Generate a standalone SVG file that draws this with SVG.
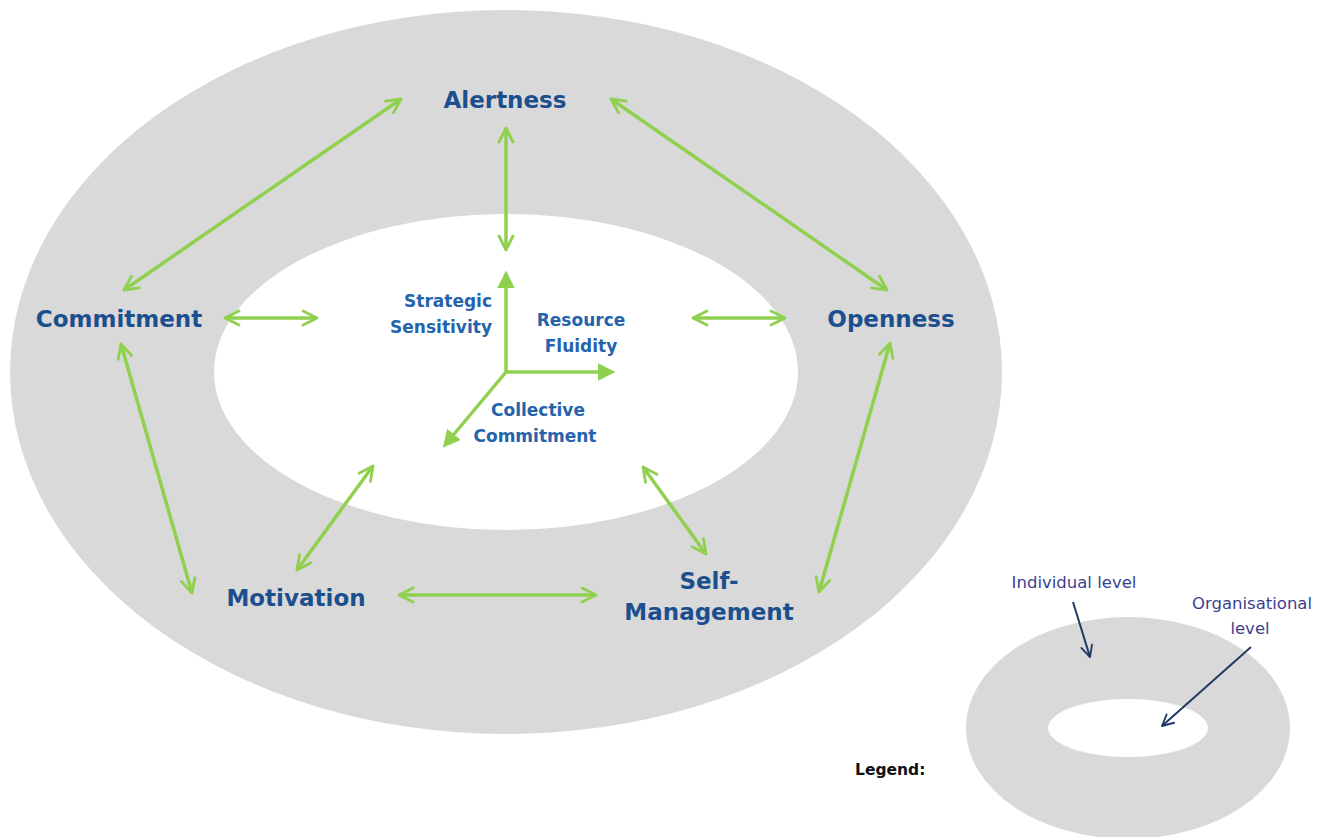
<svg xmlns="http://www.w3.org/2000/svg" width="1329" height="837" viewBox="0 0 1329 837">
<style>
.ring{fill:#d9d9d9}
.hole{fill:#ffffff}
.lbl{font-family:"DejaVu Sans",Verdana,sans-serif;font-weight:bold;font-size:23px;fill:#1c4f8e;text-anchor:middle}
.sub{font-family:"DejaVu Sans",Verdana,sans-serif;font-weight:bold;font-size:17px;fill:#2563ad;text-anchor:middle}
.leg{font-family:"DejaVu Sans",Verdana,sans-serif;font-size:16.5px;fill:#3c3f8f;text-anchor:middle}
.g{stroke:#8fd14f;stroke-width:3.5;fill:none;marker-start:url(#ch);marker-end:url(#ch)}
.ax{stroke:#8fd14f;stroke-width:3.5;fill:none;marker-end:url(#tri)}
.n{stroke:#1f3864;stroke-width:2;fill:none;marker-end:url(#chn)}
</style>
<defs>
<marker id="ch" viewBox="0 0 10 10" refX="9" refY="5" markerWidth="5" markerHeight="5" orient="auto-start-reverse" markerUnits="strokeWidth">
<path d="M1,1 L9,5 L1,9" fill="none" stroke="#8fd14f" stroke-width="1.6" stroke-linecap="round" stroke-linejoin="round"/>
</marker>
<marker id="tri" viewBox="0 0 10 10" refX="8" refY="5" markerWidth="5" markerHeight="5" orient="auto" markerUnits="strokeWidth">
<path d="M0,0 L10,5 L0,10 Z" fill="#8fd14f"/>
</marker>
<marker id="chn" viewBox="0 0 10 10" refX="9" refY="5" markerWidth="7" markerHeight="7" orient="auto" markerUnits="strokeWidth">
<path d="M1,1 L9,5 L1,9" fill="none" stroke="#1f3864" stroke-width="1.3" stroke-linecap="round" stroke-linejoin="round"/>
</marker>
</defs>
<g id="levels">
<ellipse class="ring" cx="506" cy="372" rx="496" ry="362"/>
<ellipse class="hole" cx="506" cy="372" rx="292" ry="158"/>
</g>
<g id="alertness"><text class="lbl" x="505" y="108">Alertness</text></g>
<g id="commitment"><text class="lbl" x="119" y="327">Commitment</text></g>
<g id="openness"><text class="lbl" x="891" y="327">Openness</text></g>
<g id="motivation"><text class="lbl" x="296" y="606">Motivation</text></g>
<g id="self-management"><text class="lbl" x="709" y="589">Self-</text><text class="lbl" x="709" y="620">Management</text></g>
<g id="strategic-sensitivity"><text class="sub" style="text-anchor:end" x="492" y="307">Strategic</text><text class="sub" style="text-anchor:end" x="492" y="333">Sensitivity</text></g>
<g id="resource-fluidity"><text class="sub" x="581" y="326">Resource</text><text class="sub" x="581" y="352">Fluidity</text></g>
<g id="collective-commitment"><text class="sub" x="538" y="416">Collective</text><text class="sub" x="535" y="442">Commitment</text></g>
<g id="axes">
<line class="ax" x1="506" y1="372" x2="506" y2="274"/>
<line class="ax" x1="506" y1="372" x2="612" y2="372"/>
<line class="ax" x1="506" y1="372" x2="445" y2="445"/>
</g>
<g id="connectors">
<line class="g" x1="124" y1="290" x2="401" y2="99"/>
<line class="g" x1="506" y1="128" x2="506" y2="250"/>
<line class="g" x1="611" y1="99" x2="887" y2="290"/>
<line class="g" x1="225" y1="318" x2="317" y2="318"/>
<line class="g" x1="693" y1="318" x2="785" y2="318"/>
<line class="g" x1="121" y1="344" x2="192" y2="593"/>
<line class="g" x1="890" y1="343" x2="819" y2="592"/>
<line class="g" x1="297" y1="570" x2="373" y2="466"/>
<line class="g" x1="399" y1="595" x2="596" y2="595"/>
<line class="g" x1="643" y1="467" x2="706" y2="554"/>
</g>
<g id="legend">
<ellipse class="ring" cx="1128" cy="728" rx="162" ry="111"/>
<ellipse class="hole" cx="1128" cy="728" rx="80" ry="29"/>
<text x="855" y="775" style="font-family:'DejaVu Sans',Verdana,sans-serif;font-weight:bold;font-size:15.5px;fill:#111">Legend:</text>
<text class="leg" x="1074" y="588">Individual level</text>
<text class="leg" x="1252" y="609">Organisational</text>
<text class="leg" x="1250" y="634">level</text>
<line class="n" x1="1073" y1="602" x2="1090" y2="657"/>
<line class="n" x1="1251" y1="647" x2="1162" y2="726"/>
</g>
</svg>
